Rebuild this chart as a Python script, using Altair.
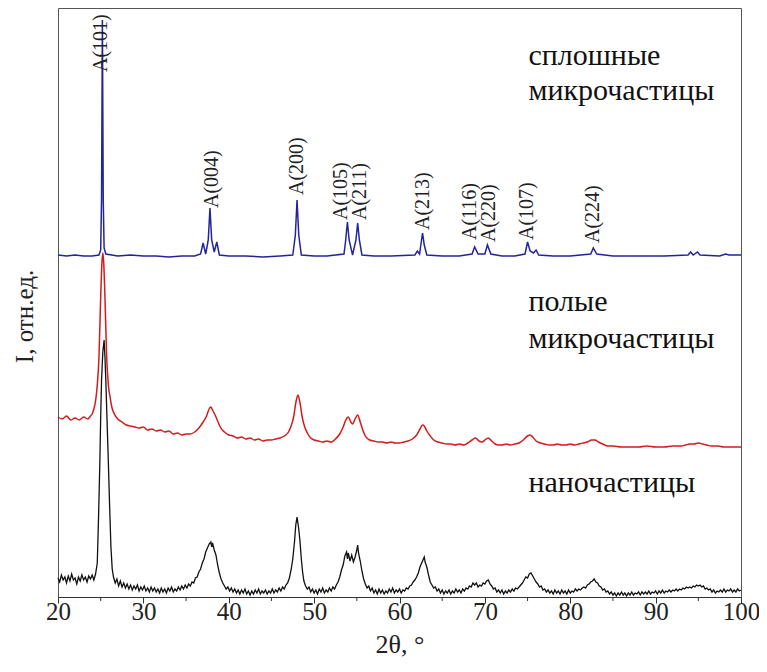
import altair as alt
import pandas as pd

# ---- axis ticks ----
major_ticks = [20, 30, 40, 50, 60, 70, 80, 90, 100]
minor_ticks = [25, 35, 45, 55, 65, 75, 85, 95]

# ---- blue: сплошные микрочастицы (2θ, I) ----
solid_points = [
    (20, 342), (21, 341), (22, 342), (23, 341), (24, 341), (24.8, 342), (25.0, 347), (25.1, 397),
    (25.2, 577), (25.3, 397), (25.4, 349), (25.6, 343), (27, 341), (28.5, 342), (30, 341), (31.5, 341),
    (33, 340), (34.5, 341), (36, 341), (36.7, 343), (37.0, 354), (37.3, 343), (37.6, 357), (37.8, 389),
    (38.0, 357), (38.3, 345), (38.6, 355), (38.9, 342), (40, 341), (42, 341), (44, 340), (46, 341),
    (47.5, 342), (47.8, 362), (48.0, 397), (48.2, 362), (48.5, 342), (50, 341), (51.5, 341),
    (53.5, 343), (53.7, 357), (53.9, 375), (54.1, 357), (54.5, 342), (54.9, 357), (55.1, 374),
    (55.3, 357), (55.6, 342), (57, 341), (59, 341), (61.8, 342), (62.1, 346), (62.35, 343),
    (62.5, 352), (62.7, 364), (62.9, 352), (63.2, 342), (65, 341), (67, 341), (68.5, 343),
    (68.8, 350), (69.2, 343), (70.0, 343), (70.3, 352), (70.7, 343), (72, 341), (73.5, 341),
    (74.7, 343), (75.0, 355), (75.3, 346), (75.7, 344), (76.0, 347), (76.3, 342), (78, 341),
    (80, 341), (82.4, 343), (82.7, 349), (83.1, 343), (85, 341), (88, 341), (91, 341),
    (93.8, 342), (94.1, 345), (94.4, 342), (94.9, 345), (95.2, 342), (97.5, 341), (98.2, 343),
    (98.6, 342), (100, 342)]

# ---- red: полые микрочастицы (2θ, I) ----
hollow_points = [
    (20.0, 180), (20.5, 178), (21.0, 181), (21.5, 177), (22.0, 179), (22.5, 177), (23.0, 180),
    (23.5, 178), (23.8, 181), (24.0, 183), (24.2, 188), (24.4, 196), (24.6, 212), (24.8, 240),
    (25.0, 300), (25.15, 335), (25.25, 344), (25.35, 335), (25.5, 300), (25.7, 240), (25.9, 212),
    (26.1, 200), (26.3, 190), (26.6, 183), (27.0, 178), (27.5, 175), (28.0, 172), (28.5, 171),
    (29.0, 170), (29.5, 169), (30.0, 170), (30.5, 167), (31.0, 168), (31.5, 166), (32.0, 167),
    (32.5, 165), (33.0, 166), (33.5, 163), (34.0, 164), (34.5, 162), (35.0, 163), (35.5, 163),
    (36.0, 165), (36.5, 169), (37.0, 175), (37.4, 181), (37.7, 188), (37.9, 190), (38.1, 187),
    (38.4, 182), (38.7, 176), (39.0, 170), (39.5, 165), (40.0, 162), (40.5, 161), (41.0, 159),
    (41.5, 160), (42.0, 158), (42.5, 159), (43.0, 157), (43.5, 158), (44.0, 156), (44.5, 157),
    (45.0, 157), (45.5, 158), (46.0, 159), (46.5, 161), (47.0, 165), (47.3, 171), (47.6, 180),
    (47.85, 194), (48.1, 202), (48.35, 194), (48.6, 180), (48.9, 170), (49.2, 164), (49.6, 159),
    (50.0, 157), (50.5, 156), (51.0, 155), (51.5, 156), (52.0, 155), (52.5, 158), (53.0, 163),
    (53.4, 170), (53.7, 177), (54.0, 180), (54.3, 175), (54.5, 173), (54.8, 178), (55.1, 182),
    (55.4, 175), (55.7, 167), (56.0, 161), (56.5, 157), (57.0, 156), (57.5, 155), (58.0, 155),
    (58.5, 154), (59.0, 155), (59.5, 154), (60.0, 154), (60.5, 155), (61.0, 156), (61.5, 158),
    (62.0, 162), (62.4, 168), (62.7, 172), (62.9, 171), (63.2, 166), (63.6, 161), (64.0, 157),
    (64.5, 155), (65.0, 154), (65.5, 153), (66.0, 153), (66.5, 152), (67.0, 153), (67.5, 152),
    (68.0, 154), (68.5, 157), (68.9, 159), (69.3, 156), (69.7, 155), (70.0, 157), (70.4, 159),
    (70.8, 156), (71.2, 153), (71.6, 152), (72.0, 152), (72.5, 153), (73.0, 152), (73.5, 153),
    (74.0, 154), (74.5, 157), (75.0, 161), (75.3, 162), (75.6, 160), (76.0, 156), (76.5, 154),
    (77.0, 153), (77.5, 152), (78.0, 152), (78.5, 153), (79.0, 152), (79.5, 152), (80.0, 153),
    (80.5, 152), (81.0, 153), (81.5, 154), (82.0, 155), (82.5, 157), (82.9, 157), (83.3, 155),
    (83.8, 153), (84.4, 151), (85.0, 151), (86.0, 150), (87.0, 150), (88.0, 150), (89.0, 151),
    (90.0, 150), (91.0, 150), (92.0, 151), (93.0, 151), (93.5, 152), (94.0, 153), (94.5, 153),
    (95.0, 154), (95.5, 153), (96.0, 152), (96.5, 151), (97.3, 151), (98.0, 150), (99.0, 150),
    (100.0, 150)]

# ---- black: наночастицы (2θ, I) ----
nano_points = [
    (20.0, 19), (20.2, 15), (20.4, 22), (20.6, 17), (20.8, 20), (21.0, 14), (21.2, 21), (21.4, 16),
    (21.6, 23), (21.8, 17), (22.0, 19), (22.2, 13), (22.4, 20), (22.6, 16), (22.8, 22), (23.0, 17),
    (23.2, 20), (23.4, 15), (23.6, 21), (23.8, 18), (24.0, 22), (24.2, 17), (24.4, 23), (24.6, 34),
    (24.75, 80), (24.9, 134), (25.0, 180), (25.1, 217), (25.25, 245), (25.4, 257), (25.5, 240),
    (25.6, 217), (25.75, 175), (25.9, 134), (26.05, 90), (26.2, 50), (26.35, 28), (26.5, 20),
    (26.7, 14), (26.9, 18), (27.1, 11), (27.3, 16), (27.5, 10), (27.7, 14), (27.9, 9), (28.1, 13),
    (28.3, 8), (28.5, 12), (28.7, 7), (28.9, 11), (29.1, 8), (29.3, 12), (29.5, 6), (29.7, 10),
    (29.9, 7), (30.1, 11), (30.3, 6), (30.5, 9), (30.7, 5), (30.9, 10), (31.1, 6), (31.3, 9),
    (31.5, 5), (31.7, 8), (31.9, 4), (32.1, 9), (32.3, 5), (32.5, 8), (32.7, 4), (32.9, 9),
    (33.1, 6), (33.3, 10), (33.5, 5), (33.7, 8), (33.9, 6), (34.1, 10), (34.3, 7), (34.5, 11),
    (34.7, 8), (34.9, 12), (35.1, 9), (35.3, 13), (35.5, 11), (35.7, 15), (35.9, 14), (36.1, 19),
    (36.3, 20), (36.5, 25), (36.7, 28), (36.9, 34), (37.1, 38), (37.3, 45), (37.5, 49), (37.7, 53),
    (37.9, 55), (38.0, 50), (38.1, 54), (38.3, 47), (38.5, 42), (38.7, 32), (38.9, 24), (39.1, 18),
    (39.3, 14), (39.5, 11), (39.7, 8), (39.9, 10), (40.1, 6), (40.3, 9), (40.5, 5), (40.7, 8),
    (40.9, 4), (41.1, 7), (41.3, 3), (41.5, 7), (41.7, 4), (41.9, 8), (42.1, 3), (42.3, 6),
    (42.5, 2), (42.7, 6), (42.9, 3), (43.1, 7), (43.3, 4), (43.5, 8), (43.7, 3), (43.9, 6),
    (44.1, 4), (44.3, 7), (44.5, 3), (44.7, 6), (44.9, 4), (45.1, 8), (45.3, 4), (45.5, 7),
    (45.7, 5), (45.9, 9), (46.1, 6), (46.3, 10), (46.5, 8), (46.7, 12), (46.9, 14), (47.1, 19),
    (47.3, 27), (47.5, 38), (47.7, 55), (47.85, 72), (48.0, 80), (48.1, 74), (48.2, 68),
    (48.35, 55), (48.5, 38), (48.65, 25), (48.8, 16), (49.0, 11), (49.2, 8), (49.4, 10),
    (49.6, 5), (49.8, 8), (50.0, 4), (50.2, 7), (50.4, 3), (50.6, 8), (50.8, 5), (51.0, 9),
    (51.2, 4), (51.4, 7), (51.6, 5), (51.8, 9), (52.0, 6), (52.2, 10), (52.4, 8), (52.6, 12),
    (52.8, 15), (53.0, 20), (53.2, 27), (53.4, 32), (53.6, 41), (53.8, 45), (53.9, 38), (54.0, 44),
    (54.2, 36), (54.4, 42), (54.6, 35), (54.8, 40), (55.0, 47), (55.1, 52), (55.2, 44), (55.4, 36),
    (55.6, 26), (55.8, 18), (56.0, 13), (56.2, 9), (56.4, 11), (56.6, 6), (56.8, 9), (57.0, 4),
    (57.2, 7), (57.4, 3), (57.6, 8), (57.8, 4), (58.0, 7), (58.2, 3), (58.4, 6), (58.6, 4),
    (58.8, 8), (59.0, 5), (59.2, 9), (59.4, 4), (59.6, 7), (59.8, 5), (60.0, 8), (60.2, 4),
    (60.4, 7), (60.6, 6), (60.8, 9), (61.0, 8), (61.2, 11), (61.4, 12), (61.6, 15), (61.8, 17),
    (62.0, 20), (62.2, 24), (62.4, 30), (62.6, 34), (62.8, 38), (62.9, 40), (63.0, 35), (63.2, 30),
    (63.4, 22), (63.6, 15), (63.8, 12), (64.0, 9), (64.2, 10), (64.4, 6), (64.6, 8), (64.8, 4),
    (65.0, 7), (65.2, 3), (65.4, 6), (65.6, 4), (65.8, 7), (66.0, 3), (66.2, 6), (66.4, 4),
    (66.6, 8), (66.8, 5), (67.0, 7), (67.2, 4), (67.4, 8), (67.6, 6), (67.8, 9), (68.0, 8),
    (68.2, 11), (68.4, 10), (68.6, 14), (68.8, 12), (69.0, 14), (69.2, 10), (69.4, 12), (69.6, 11),
    (69.8, 14), (70.0, 13), (70.2, 16), (70.4, 17), (70.6, 13), (70.8, 11), (71.0, 8), (71.2, 9),
    (71.4, 5), (71.6, 7), (71.8, 4), (72.0, 7), (72.2, 3), (72.4, 6), (72.6, 4), (72.8, 7),
    (73.0, 5), (73.2, 8), (73.4, 6), (73.6, 9), (73.8, 8), (74.0, 10), (74.2, 12), (74.4, 14),
    (74.6, 17), (74.8, 20), (75.0, 19), (75.2, 23), (75.4, 24), (75.6, 21), (75.8, 18), (76.0, 15),
    (76.2, 13), (76.4, 10), (76.6, 11), (76.8, 7), (77.0, 8), (77.2, 5), (77.4, 7), (77.6, 4),
    (77.8, 6), (78.0, 3), (78.2, 7), (78.4, 4), (78.6, 6), (78.8, 3), (79.0, 7), (79.2, 4),
    (79.4, 6), (79.6, 3), (79.8, 7), (80.0, 4), (80.2, 6), (80.4, 5), (80.6, 8), (80.8, 6),
    (81.0, 8), (81.2, 7), (81.4, 9), (81.6, 10), (81.8, 9), (82.0, 12), (82.2, 13), (82.4, 15),
    (82.6, 16), (82.8, 18), (83.0, 15), (83.2, 14), (83.4, 11), (83.6, 10), (83.8, 7), (84.0, 8),
    (84.2, 5), (84.4, 6), (84.6, 3), (84.8, 5), (85.0, 2), (85.2, 4), (85.4, 1), (85.6, 4),
    (85.8, 2), (86.0, 5), (86.2, 2), (86.4, 4), (86.6, 1), (86.8, 4), (87.0, 2), (87.2, 5),
    (87.4, 2), (87.6, 4), (87.8, 3), (88.0, 5), (88.2, 2), (88.4, 5), (88.6, 3), (88.8, 5),
    (89.0, 3), (89.2, 6), (89.4, 3), (89.6, 5), (89.8, 4), (90.0, 6), (90.2, 3), (90.4, 6),
    (90.6, 4), (90.8, 7), (91.0, 4), (91.2, 6), (91.4, 5), (91.6, 7), (91.8, 5), (92.0, 7),
    (92.2, 6), (92.4, 8), (92.6, 6), (92.8, 8), (93.0, 7), (93.2, 9), (93.4, 8), (93.6, 10),
    (93.8, 9), (94.0, 10), (94.2, 9), (94.4, 11), (94.6, 10), (94.8, 12), (95.0, 11), (95.2, 12),
    (95.4, 10), (95.6, 11), (95.8, 8), (96.0, 9), (96.2, 7), (96.4, 8), (96.6, 5), (96.8, 7),
    (97.0, 4), (97.2, 6), (97.4, 5), (97.6, 7), (97.8, 5), (98.0, 8), (98.2, 5), (98.4, 7),
    (98.6, 6), (98.8, 8), (99.0, 5), (99.2, 7), (99.4, 5), (99.6, 8), (99.8, 6), (100.0, 7)]

# ---- peak annotations ----
peak_labels = ["A(101)", "A(004)", "A(200)", "A(105)", "A(211)", "A(213)",
               "A(116)", "A(220)", "A(107)", "A(224)"]
peak_x = [25.0, 38.0, 48.0, 53.2, 55.4, 62.8, 68.3, 70.5, 74.9, 82.7]
peak_i = [525, 389, 402, 377, 377, 367, 357, 355, 357, 354]

# ---- series captions ----
caption_text = ["сплошные", "микрочастицы", "полые", "микрочастицы", "наночастицы"]
caption_x = [75.1, 75.1, 75.1, 75.1, 75.1]
caption_i = [532, 497, 286, 249, 105]

series_colors = {"solid": "#24249a", "hollow": "#d21c1c", "nano": "#111111"}

def frame(points):
    return pd.DataFrame({"two_theta": [p[0] for p in points], "intensity": [p[1] for p in points]})

peaks = pd.DataFrame({"label": peak_labels, "two_theta": peak_x, "intensity": peak_i})
captions = pd.DataFrame({"text": caption_text, "two_theta": caption_x, "intensity": caption_i})
minor = pd.DataFrame({"two_theta": minor_ticks})

FONT = "Liberation Serif"
xscale = alt.Scale(domain=[20, 100], nice=False, zero=False)
yscale = alt.Scale(domain=[0, 589], nice=False, zero=False)
xaxis = alt.Axis(values=major_ticks, title="2θ, °", grid=False, tickSize=6, tickColor="#333",
                 domainColor="#333", labelFont=FONT, labelFontSize=25, labelColor="#222",
                 labelPadding=-4, labelFlush=False, titleFont=FONT, titleFontSize=26,
                 titleFontWeight="normal", titleColor="#222", titleY=55, titleBaseline="alphabetic")
yaxis = alt.Axis(title="I, отн.ед.", labels=False, ticks=False, domain=False, grid=False,
                 titleFont=FONT, titleFontSize=25, titleFontWeight="normal", titleColor="#222",
                 titleAngle=270, titleX=-34, titleY=308, titleAlign="center", titleBaseline="middle")

def X():
    return alt.X("two_theta:Q", scale=xscale, axis=xaxis)

def Y():
    return alt.Y("intensity:Q", scale=yscale, axis=yaxis)

solid_line = alt.Chart(frame(solid_points)).mark_line(
    strokeWidth=1.5, color=series_colors["solid"]).encode(x=X(), y=Y())
hollow_line = alt.Chart(frame(hollow_points)).mark_line(
    strokeWidth=1.5, color=series_colors["hollow"], interpolate="monotone").encode(x=X(), y=Y())
nano_line = alt.Chart(frame(nano_points)).mark_line(
    strokeWidth=1.3, color=series_colors["nano"]).encode(x=X(), y=Y())

peak_text = alt.Chart(peaks).mark_text(angle=270, align="left", baseline="middle", font=FONT,
                                       fontSize=20, color="#222").encode(x=X(), y=Y(), text="label:N")

caption_marks = alt.Chart(captions).mark_text(align="left", baseline="alphabetic", font=FONT,
                                              fontSize=30, color="#111").encode(x=X(), y=Y(), text="text:N")

minor_marks = alt.Chart(minor).mark_rule(color="#333", strokeWidth=1).encode(
    x=X(), y=alt.value(589), y2=alt.value(593))

chart = alt.layer(nano_line, hollow_line, solid_line, minor_marks, peak_text, caption_marks).properties(
    width=683, height=589,
    autosize=alt.AutoSizeParams(type="none"),
    padding={"left": 50, "top": 0, "right": 18, "bottom": 62},
).configure_view(stroke="#555", strokeWidth=1)

chart.save("out.html", embed_options={"renderer": "svg", "actions": False})
